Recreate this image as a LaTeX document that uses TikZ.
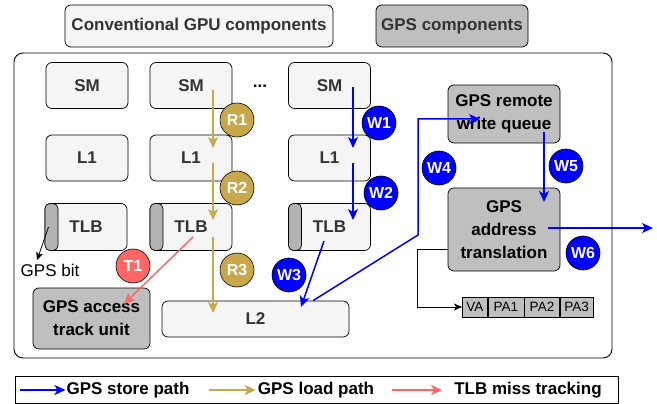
\documentclass[tikz,border=0pt]{standalone}
\usepackage{fontspec}
\setmainfont{Liberation Sans}
\usetikzlibrary{arrows.meta}

\definecolor{loadgold}{HTML}{C8A84B}
\definecolor{storeblue}{HTML}{0000FF}
\definecolor{missred}{HTML}{FF6666}
\definecolor{gpsgray}{HTML}{BFBFBF}
\definecolor{capgray}{HTML}{B3B3B3}
\definecolor{boxfill}{HTML}{F5F5F5}
\definecolor{boxtext}{HTML}{333333}

\newcommand{\unitfont}{\fontsize{17}{23}\selectfont}

\begin{document}
\begin{tikzpicture}[x=1pt,y=-1pt,>={Stealth[length=11pt,width=10pt,inset=3pt]},
    unit/.style={draw,rounded corners=6pt,fill=boxfill,text=boxtext,font=\unitfont\bfseries,line width=0.7pt,inner sep=0pt},
    gpsunit/.style={unit,fill=gpsgray,text=black,align=center},
    tlbcap/.style={draw,rounded corners=5pt,fill=capgray,line width=0.7pt,minimum width=13,minimum height=47,inner sep=0pt,anchor=west},
    badge/.style={circle,draw,line width=0.6pt,minimum size=34,inner sep=0pt,text=white,font=\fontsize{16}{16}\selectfont\bfseries},
    store/.style={->,storeblue,line width=1.5pt},
    load/.style={->,loadgold,line width=1.5pt},
    miss/.style={->,missred,line width=1.5pt},
    thin/.style={-{Stealth[length=8pt,width=7pt,inset=2pt]},black,line width=0.8pt},
    cell/.style={draw,fill=gpsgray,minimum height=20,inner sep=0pt,anchor=west,font=\fontsize{13.5}{15}\selectfont,line width=0.6pt},
    legtext/.style={inner sep=1pt,font=\unitfont\bfseries}
]

    \useasboundingbox (0,0) rectangle (657,404);

    % Key boxes on top
    \node[unit,minimum width=268,minimum height=42] (conv) at (199,26) {Conventional GPU components};
    \node[unit,fill=gpsgray,minimum width=152,minimum height=42] (gpskey) at (452,26) {GPS components};

    % GPU frame
    \node[draw,rounded corners=9pt,line width=0.9pt,minimum width=598,minimum height=305] (gpu) at (313,205.5) {};

    % SM / L1 / TLB columns
    \node[unit,minimum width=82,minimum height=46] (sm1) at (87,85.5) {SM};
    \node[unit,minimum width=82,minimum height=46] (sm2) at (191,85.5) {SM};
    \node[unit,minimum width=82,minimum height=46] (sm3) at (329.5,85.5) {SM};
    \node[font=\unitfont\bfseries] (dots) at (260,86) {...};

    \node[unit,minimum width=82,minimum height=46] (l1a) at (87,158) {L1};
    \node[unit,minimum width=82,minimum height=46] (l1b) at (191,158) {L1};
    \node[unit,minimum width=82,minimum height=46] (l1c) at (329.5,158) {L1};

    \node[unit,minimum width=82,minimum height=47] (tlb1) at (86,227) {TLB};
    \node[unit,minimum width=82,minimum height=47] (tlb2) at (191,227) {TLB};
    \node[unit,minimum width=82,minimum height=47] (tlb3) at (329.5,227) {TLB};
    \node[tlbcap] (cap1) at (tlb1.west) {};
    \node[tlbcap] (cap2) at (tlb2.west) {};
    \node[tlbcap] (cap3) at (tlb3.west) {};

    \node[font=\unitfont] (bit) at (50,270) {GPS bit};

    % Shared L2 and GPS units
    \node[unit,minimum width=187,minimum height=36] (l2) at (255.5,319) {L2};
    \node[gpsunit,minimum width=117,minimum height=61] (track) at (91.5,318.5) {GPS access\\track unit};
    \node[gpsunit,minimum width=112,minimum height=58] (queue) at (504,114) {GPS remote\\write queue};
    \node[gpsunit,minimum width=112,minimum height=83] (trans) at (504,229.5) {GPS\\address\\translation};

    % Translation table entry
    \node[cell,minimum width=25] (va) at (462,307) {VA};
    \node[cell,minimum width=36] (pa1) at (va.east) {PA1};
    \node[cell,minimum width=35] (pa2) at (pa1.east) {PA2};
    \node[cell,minimum width=33] (pa3) at (pa2.east) {PA3};

    % Load path
    \draw[load] ([shift={(22,5)}]sm2.center) -- ([shift={(22,-10)}]l1b.center);
    \draw[load] ([shift={(22,5)}]l1b.center) -- ([shift={(22,-7)}]tlb2.center);
    \draw[load] ([shift={(22,10)}]tlb2.center) -- ([shift={(-42.5,-6)}]l2.center);

    % Store path
    \coordinate (turn) at (418,235);
    \coordinate (remote) at (653,228);
    \draw[store] ([shift={(23.5,2)}]sm3.center) -- ([shift={(23.5,-10)}]l1c.center);
    \draw[store] ([shift={(23.5,5)}]l1c.center) -- ([shift={(23.5,-7)}]tlb3.center);
    \draw[store] ([shift={(-5.5,14)}]tlb3.center) -- ([shift={(45.5,-12)}]l2.center);
    \draw[store] ([xshift=57.5]l2.north) -- (turn) |- ([shift={(-24,5)}]queue.center);
    \draw[store] ([shift={(40,18)}]queue.center) -- ([shift={(40,-27.5)}]trans.center);
    \draw[store] ([shift={(44,-1.5)}]trans.center) -- (remote);

    % TLB miss tracking
    \draw[miss] ([shift={(2,10)}]tlb2.center) -- ([shift={(32.5,-14.5)}]track.center);

    % GPS bit and table lookup
    \draw[thin] ([xshift=-3]cap1.center) -- ([xshift=-13]bit.north);
    \draw[thin] ([shift={(0,19.5)}]trans.west) -- ++(-30,0) |- (va.west);

    % Step markers
    \node[badge,fill=loadgold] (r1) at (237,120) {R1};
    \node[badge,fill=loadgold] (r2) at (237,188) {R2};
    \node[badge,fill=loadgold] (r3) at (237,270) {R3};
    \node[badge,fill=storeblue] (w1) at (379,123) {W1};
    \node[badge,fill=storeblue] (w2) at (381,193) {W2};
    \node[badge,fill=storeblue] (w3) at (289,275) {W3};
    \node[badge,fill=storeblue] (w4) at (439,168) {W4};
    \node[badge,fill=storeblue] (w5) at (566,166) {W5};
    \node[badge,fill=storeblue] (w6) at (583,253) {W6};
    \node[badge,fill=missred] (t1) at (133,266) {T1};

    % Legend
    \node[draw,line width=1pt,minimum width=603,minimum height=27] (legend) at (316.5,389.5) {};
    \node[legtext] (stleg) at (128,390) {GPS store path};
    \node[legtext] (ldleg) at (316,390) {GPS load path};
    \node[legtext] (msleg) at (528,390) {TLB miss tracking};
    \draw[store] ([xshift=-45]stleg.west) -- (stleg.west);
    \draw[load] ([xshift=-48]ldleg.west) -- ([xshift=-1]ldleg.west);
    \draw[miss] ([xshift=-61]msleg.west) -- ([xshift=-11]msleg.west);

\end{tikzpicture}
\end{document}
